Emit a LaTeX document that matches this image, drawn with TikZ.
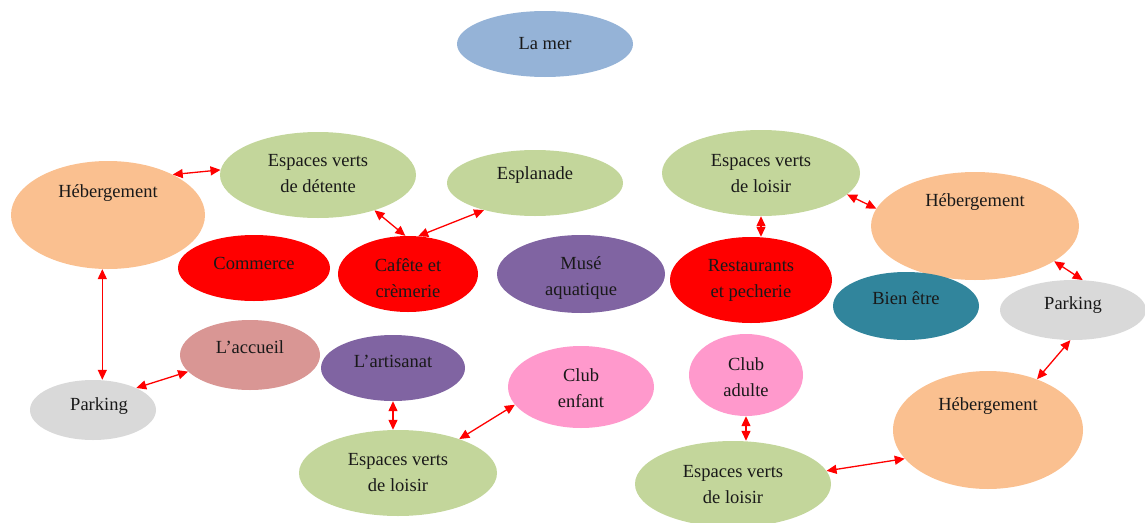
\documentclass[tikz,border=0pt]{standalone}
\usepackage{fontspec}
\setmainfont{Liberation Serif}
\usetikzlibrary{shapes.geometric,arrows.meta}
\definecolor{cblue}{HTML}{95B3D7}
\definecolor{cgreen}{HTML}{C3D69B}
\definecolor{corange}{HTML}{FAC090}
\definecolor{cred}{HTML}{FF0000}
\definecolor{cpurple}{HTML}{8064A2}
\definecolor{cteal}{HTML}{31859C}
\definecolor{cgray}{HTML}{D9D9D9}
\definecolor{crose}{HTML}{D99694}
\definecolor{cpink}{HTML}{FF99CC}
\tikzset{
 blob/.style={ellipse, inner sep=0pt, draw=none},
 txt/.style={font=\fontsize{18.5}{26}\selectfont, align=center, inner sep=0pt, text=black!90},
 link/.style={draw=red, line width=1.3pt, {Triangle[length=10pt,width=9pt]}-{Triangle[length=10pt,width=9pt]}},
}
\begin{document}
\begin{tikzpicture}[x=1pt,y=-1pt]
\useasboundingbox (0,0) rectangle (1145,522);
% ellipses
\node[blob, fill=cblue,   minimum width=176pt, minimum height=66pt] (mer)   at (545,44)  {};
\node[blob, fill=corange, minimum width=194pt, minimum height=108pt] (hebL) at (108,215) {};
\node[blob, fill=cgreen,  minimum width=196pt, minimum height=86pt] (evd)   at (318,175) {};
\node[blob, fill=cgreen,  minimum width=176pt, minimum height=66pt] (espl)  at (535,183) {};
\node[blob, fill=cgreen,  minimum width=198pt, minimum height=86pt] (evla)  at (761,173) {};
\node[blob, fill=corange, minimum width=208pt, minimum height=108pt] (hebR) at (975,226) {};
\node[blob, fill=cred,    minimum width=152pt, minimum height=66pt] (comm)  at (254,268) {};
\node[blob, fill=cred,    minimum width=140pt, minimum height=76pt] (cafe)  at (408,274) {};
\node[blob, fill=cpurple, minimum width=168pt, minimum height=78pt] (muse)  at (581,274) {};
\node[blob, fill=cred,    minimum width=162pt, minimum height=86pt] (rest)  at (751,280) {};
\node[blob, fill=cteal,   minimum width=146pt, minimum height=68pt] (bien)  at (906,306) {};
\node[blob, fill=cgray,   minimum width=146pt, minimum height=60pt] (parkR) at (1073,310) {};
\node[blob, fill=crose,   minimum width=140pt, minimum height=70pt] (accu)  at (250,355) {};
\node[blob, fill=cpurple, minimum width=144pt, minimum height=66pt] (arti)  at (393,368) {};
\node[blob, fill=cgray,   minimum width=126pt, minimum height=60pt] (parkL) at (93,410)  {};
\node[blob, fill=cpink,   minimum width=146pt, minimum height=82pt] (clubE) at (581,387) {};
\node[blob, fill=cpink,   minimum width=114pt, minimum height=82pt] (clubA) at (746,375) {};
\node[blob, fill=cgreen,  minimum width=198pt, minimum height=86pt] (evlb)  at (398,473) {};
\node[blob, fill=cgreen,  minimum width=196pt, minimum height=86pt] (evlc)  at (733,484) {};
\node[blob, fill=corange, minimum width=190pt, minimum height=118pt] (hebB) at (988,430) {};
% texts
\node[txt] (t-mer)   at (545,44)  {La mer};
\node[txt] (t-hebL)  at (108,193) {Hébergement};
\node[txt] (t-evd)   at (318,174) {Espaces verts\\de détente};
\node[txt] (t-espl)  at (535,175) {Esplanade};
\node[txt] (t-evla)  at (761,174) {Espaces verts\\de loisir};
\node[txt] (t-hebR)  at (975,202) {Hébergement};
\node[txt] (t-comm)  at (254,263) {Commerce};
\node[txt] (t-cafe)  at (408,278) {Cafête et\\crèmerie};
\node[txt] (t-muse)  at (581,278) {Musé\\aquatique};
\node[txt] (t-rest)  at (751,280) {Restaurants\\et pecherie};
\node[txt] (t-bien)  at (906,298) {Bien être};
\node[txt] (t-parkR) at (1073,305) {Parking};
\node[txt] (t-accu)  at (250,347) {L’accueil};
\node[txt] (t-arti)  at (393,361) {L’artisanat};
\node[txt] (t-parkL) at (99,406)  {Parking};
\node[txt] (t-clubE) at (581,388) {Club\\enfant};
\node[txt] (t-clubA) at (746,377) {Club\\adulte};
\node[txt] (t-evlb)  at (398,473) {Espaces verts\\de loisir};
\node[txt] (t-evlc)  at (733,485) {Espaces verts\\de loisir};
\node[txt] (t-hebB)  at (988,406) {Hébergement};
% connectors
\draw[link] (hebL.32) -- (evd.177);
\draw[link] (evd.-32) -- (cafe.94);
\draw[link] (cafe.75) -- (espl.208);
\draw[link] (evla.south) -- (evla.south |- rest.north);
\draw[link] (evla.-14) -- (hebR.170);
\draw[link] (hebR.-24) -- (parkR.72);
\draw[link] (parkR.-95) -- (hebB.46);
\draw[link] (hebB.199) -- (evlc.8);
\draw[link] (clubA.south) -- (clubA.south |- evlc.north);
\draw[link] (clubE.195) -- (evlb.29);
\draw[link] (arti.south) -- (arti.south |- evlb.north);
\draw[link] (accu.195) -- (parkL.27);
\draw[link] (hebL.-96) -- (hebL.-96 |- parkL.north);
\end{tikzpicture}
\end{document}
